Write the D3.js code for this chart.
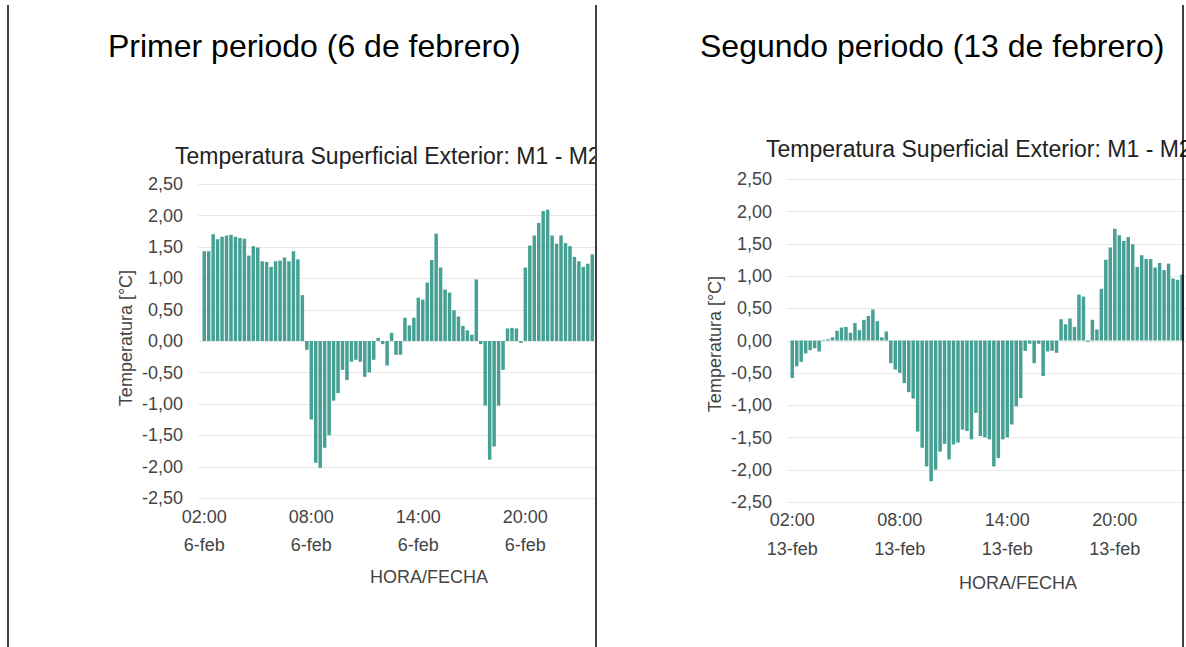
<!DOCTYPE html>
<html>
<head>
<meta charset="utf-8">
<script src="https://cdn.jsdelivr.net/npm/d3@7"></script>
<style>
  html, body { margin: 0; padding: 0; background: #fff; }
  svg { display: block; font-family: "Liberation Sans", Arial, sans-serif; }
</style>
</head>
<body>
<svg id="chart"></svg>
<script>
// Two cropped charts side by side, one per period.

// Data
var headers = ["Primer periodo (6 de febrero)", "Segundo periodo (13 de febrero)"];
var chartTitle = "Temperatura Superficial Exterior: M1 - M2";
var yTitle = "Temperatura [°C]";
var xTitle = "HORA/FECHA";
var yTicks = [-2.5, -2, -1.5, -1, -0.5, 0, 0.5, 1, 1.5, 2, 2.5];
var tickHours = ["02:00", "08:00", "14:00", "20:00"];
var dates = ["6-feb", "13-feb"];

// one bar every 15 minutes, starting 02:00
var feb6 = [
  1.43, 1.43, 1.70, 1.62, 1.66, 1.68, 1.69, 1.66, 1.64, 1.63, 1.36, 1.51,
  1.49, 1.27, 1.26, 1.18, 1.27, 1.28, 1.33, 1.27, 1.43, 1.30, 0.73, -0.14,
  -1.25, -1.94, -2.02, -1.70, -1.50, -0.95, -0.83, -0.46, -0.62, -0.33, -0.30, -0.33,
  -0.57, -0.50, -0.30, 0.05, -0.05, -0.39, 0.13, -0.22, -0.22, 0.37, 0.25, 0.37,
  0.69, 0.66, 0.93, 1.29, 1.71, 1.17, 0.82, 0.77, 0.49, 0.39, 0.24, 0.17,
  0.10, 0.98, -0.05, -1.03, -1.89, -1.68, -1.03, -0.46, 0.20, 0.21, 0.20, -0.03,
  1.17, 1.52, 1.68, 1.88, 2.07, 2.09, 1.68, 1.55, 1.68, 1.56, 1.51, 1.34,
  1.27, 1.18, 1.23, 1.38, 1.34, 1.35
];
var feb13 = [
  -0.58, -0.40, -0.33, -0.20, -0.15, -0.12, -0.17, 0.01, 0.02, 0.05, 0.15, 0.20,
  0.21, 0.12, 0.27, 0.16, 0.32, 0.38, 0.48, 0.30, 0.05, 0.14, -0.35, -0.45,
  -0.50, -0.66, -0.80, -0.90, -1.41, -1.66, -1.95, -2.18, -2.00, -1.72, -1.60, -1.84,
  -1.61, -1.58, -1.38, -1.40, -1.53, -1.12, -1.48, -1.50, -1.53, -1.95, -1.82, -1.53,
  -1.50, -1.30, -1.02, -0.89, -0.16, -0.05, -0.35, -0.05, -0.55, -0.17, -0.16, -0.19,
  0.33, 0.25, 0.34, 0.21, 0.71, 0.68, -0.02, 0.32, 0.17, 0.80, 1.25, 1.44,
  1.73, 1.63, 1.54, 1.60, 1.49, 1.14, 1.32, 1.26, 1.26, 1.13, 1.20, 1.09,
  1.19, 0.96, 0.94, 1.02
];

// 96 quarter-hour slots of the day, 02:00 .. 01:45
var slots = [];
for (var h = 0; h < 24; h++) {
  for (var m = 0; m < 60; m += 15) {
    slots.push(String((h + 2) % 24).padStart(2, "0") + ":" + String(m).padStart(2, "0"));
  }
}

var width = 1186;
var height = 647;
var barColor = "#46a194";

var esLocale = d3.formatLocale({decimal: ",", thousands: ".", grouping: [3], currency: ["", " €"], minus: "-"});
var fmt = esLocale.format(".2f");

var svg = d3.select("#chart").attr("width", width).attr("height", height);

// Layout of each cropped chart
var panels = [
  {values: feb6, date: dates[0], header: headers[0], headerX: 108, headerY: 57,
   x0: 202, step: 4.46, yTop: 184, yBot: 498, gridX0: 198, clipX0: 9, clipX1: 595,
   labelRight: 183, yTitleX: 126, yTitleY: 338, titleX: 175, titleY: 164,
   tickY1: 523, tickY2: 551, xTitleX: 429, xTitleY: 583},
  {values: feb13, date: dates[1], header: headers[1], headerX: 700, headerY: 57,
   x0: 790, step: 4.48, yTop: 179, yBot: 502, gridX0: 787, clipX0: 598, clipX1: 1186,
   labelRight: 772, yTitleX: 715, yTitleY: 344, titleX: 766, titleY: 157,
   tickY1: 526, tickY2: 555, xTitleX: 1018, xTitleY: 589}
];

panels.forEach(function (p, k) {

  svg.append("text")
      .attr("x", p.headerX).attr("y", p.headerY)
      .attr("font-size", 32).attr("fill", "#000")
      .text(p.header);

  var clipId = "clip" + k;
  svg.append("clipPath").attr("id", clipId)
    .append("rect")
      .attr("x", p.clipX0).attr("y", 120)
      .attr("width", p.clipX1 - p.clipX0).attr("height", 500);

  var g = svg.append("g").attr("clip-path", "url(#" + clipId + ")");

  var x = d3.scaleBand()
      .domain(slots)
      .range([p.x0, p.x0 + p.step * slots.length])
      .paddingInner(0.22)
      .paddingOuter(0.11);

  var y = d3.scaleLinear()
      .domain([-2.5, 2.5])
      .range([p.yBot, p.yTop]);

  // gridlines
  g.selectAll("line.grid").data(yTicks).enter().append("line")
      .attr("class", "grid")
      .attr("x1", p.gridX0).attr("x2", p.clipX1 + 10)
      .attr("y1", function (d) { return Math.round(y(d)) + 0.5; })
      .attr("y2", function (d) { return Math.round(y(d)) + 0.5; })
      .attr("stroke", "#e8e8e8").attr("stroke-width", 1);

  // bars
  g.selectAll("rect.bar").data(p.values).enter().append("rect")
      .attr("class", "bar")
      .attr("x", function (d, i) { return x(slots[i]); })
      .attr("width", x.bandwidth())
      .attr("y", function (d) { return y(Math.max(0, d)); })
      .attr("height", function (d) { return Math.abs(y(d) - y(0)); })
      .attr("fill", barColor);

  // y axis labels
  var yAxis = d3.axisLeft(y).tickValues(yTicks).tickFormat(fmt).tickSize(0).tickPadding(0);
  var ya = g.append("g")
      .attr("transform", "translate(" + p.labelRight + ",0)")
      .call(yAxis);
  ya.select(".domain").remove();
  ya.selectAll("text").attr("font-size", 18).attr("fill", "#444")
      .attr("font-family", "Liberation Sans, Arial, sans-serif");

  // x axis labels (hour + date on two rows)
  var xa = g.append("g")
      .attr("transform", "translate(0," + p.tickY1 + ")")
      .call(d3.axisBottom(x).tickValues(tickHours).tickSize(0).tickPadding(0));
  xa.select(".domain").remove();
  xa.selectAll("text").remove();
  xa.selectAll(".tick").each(function (d) {
    var t = d3.select(this).append("text")
        .attr("text-anchor", "middle")
        .attr("font-size", 18).attr("fill", "#444")
        .attr("font-family", "Liberation Sans, Arial, sans-serif");
    t.append("tspan").attr("x", 0).attr("y", 0).text(d);
    t.append("tspan").attr("x", 0).attr("y", p.tickY2 - p.tickY1).text(p.date);
  });

  // titles
  g.append("text")
      .attr("x", p.titleX).attr("y", p.titleY)
      .attr("font-size", 23).attr("fill", "#222")
      .text(chartTitle);

  g.append("text")
      .attr("transform", "translate(" + p.yTitleX + "," + p.yTitleY + ")rotate(-90)")
      .attr("text-anchor", "middle").attr("dy", "0.35em")
      .attr("font-size", 18).attr("fill", "#444")
      .text(yTitle);

  g.append("text")
      .attr("x", p.xTitleX).attr("y", p.xTitleY)
      .attr("text-anchor", "middle")
      .attr("font-size", 18).attr("fill", "#444")
      .text(xTitle);
});

// table borders
[8, 596, 1183].forEach(function (bx) {
  svg.append("line")
      .attr("x1", bx).attr("x2", bx)
      .attr("y1", 5).attr("y2", height)
      .attr("stroke", "#000").attr("stroke-width", 1.5);
});
</script>
</body>
</html>
